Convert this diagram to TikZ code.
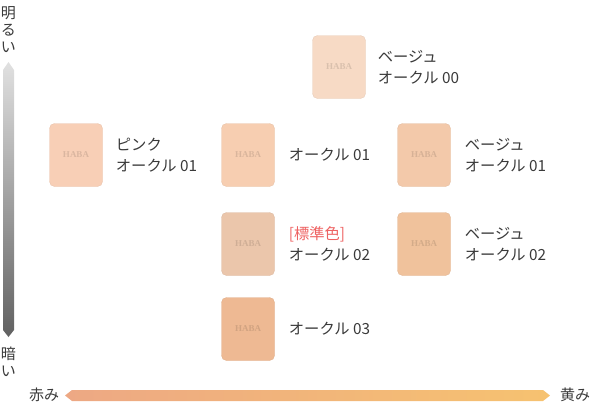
\documentclass[tikz,border=0pt]{standalone}
\usepackage{fontspec}
\setmainfont{Noto Sans CJK JP}
\newfontfamily\logofont{Liberation Serif}
\usetikzlibrary{positioning}

\definecolor{txt}{HTML}{3A3A3A}
\definecolor{std}{HTML}{EE6262}
\definecolor{beigeZ}{HTML}{F7DAC5}
\definecolor{pinkA}{HTML}{F8CFB6}
\definecolor{ochreA}{HTML}{F7CEB1}
\definecolor{beigeA}{HTML}{F3C9AA}
\definecolor{ochreB}{HTML}{EBC6AB}
\definecolor{beigeB}{HTML}{F0C29C}
\definecolor{ochreC}{HTML}{EEB993}
\definecolor{redEnd}{HTML}{EDA884}
\definecolor{yellowEnd}{HTML}{F6C270}

\tikzset{
  swatch/.style={rounded corners=5pt, minimum width=53pt, minimum height=63pt,
    fill=#1, draw=#1!94!black, line width=0.4pt, text=#1!88!black,
    font=\logofont\bfseries\fontsize{9}{10}\selectfont},
  shadelabel/.style={text=txt, align=left, inner sep=0pt, anchor=west,
    font=\fontsize{15.3}{21}\selectfont},
  axislabel/.style={text=txt, align=center, inner sep=0pt,
    font=\fontsize{15}{17}\selectfont}
}

\begin{document}
\begin{tikzpicture}[x=1pt,y=-1pt]
\useasboundingbox (0,0) rectangle (593,405);

% axes
\shade[top color=black!12, bottom color=black!62] (3,70) -- (8.5,62) -- (14,70) -- (14,330) -- (8.5,337) -- (3,330) -- cycle;
\shade[left color=redEnd, right color=yellowEnd]
  (65,395.5) -- (72,390) -- (543,390) -- (550,395.5) -- (543,401) -- (72,401) -- cycle;
\node[axislabel] (bright) at (8.5,30) {明\\る\\い};
\node[axislabel] (dark) at (8.5,362) {暗\\い};
\node[axislabel] (red) at (44,395) {赤み};
\node[axislabel] (yellow) at (575,395) {黄み};

% swatches
\node[swatch=beigeZ] (bo00) at (339,67) {HABA};
\node[swatch=pinkA] (po01) at (76,155) {HABA};
\node[swatch=ochreA] (oc01) at (248,155) {HABA};
\node[swatch=beigeA] (bo01) at (424,155) {HABA};
\node[swatch=ochreB] (oc02) at (248,244) {HABA};
\node[swatch=beigeB] (bo02) at (424,244) {HABA};
\node[swatch=ochreC] (oc03) at (248,329) {HABA};

% labels
\node[shadelabel, right=12pt of bo00] (bo00t) {ベージュ\\オークル 00};
\node[shadelabel, right=13pt of po01] (po01t) {ピンク\\オークル 01};
\node[shadelabel, right=14pt of oc01] (oc01t) {オークル 01};
\node[shadelabel, right=14pt of bo01] (bo01t) {ベージュ\\オークル 01};
\node[shadelabel, right=14pt of oc02] (oc02t) {\textcolor{std}{[標準色]}\\オークル 02};
\node[shadelabel, right=14pt of bo02] (bo02t) {ベージュ\\オークル 02};
\node[shadelabel, right=14pt of oc03] (oc03t) {オークル 03};
\end{tikzpicture}
\end{document}
